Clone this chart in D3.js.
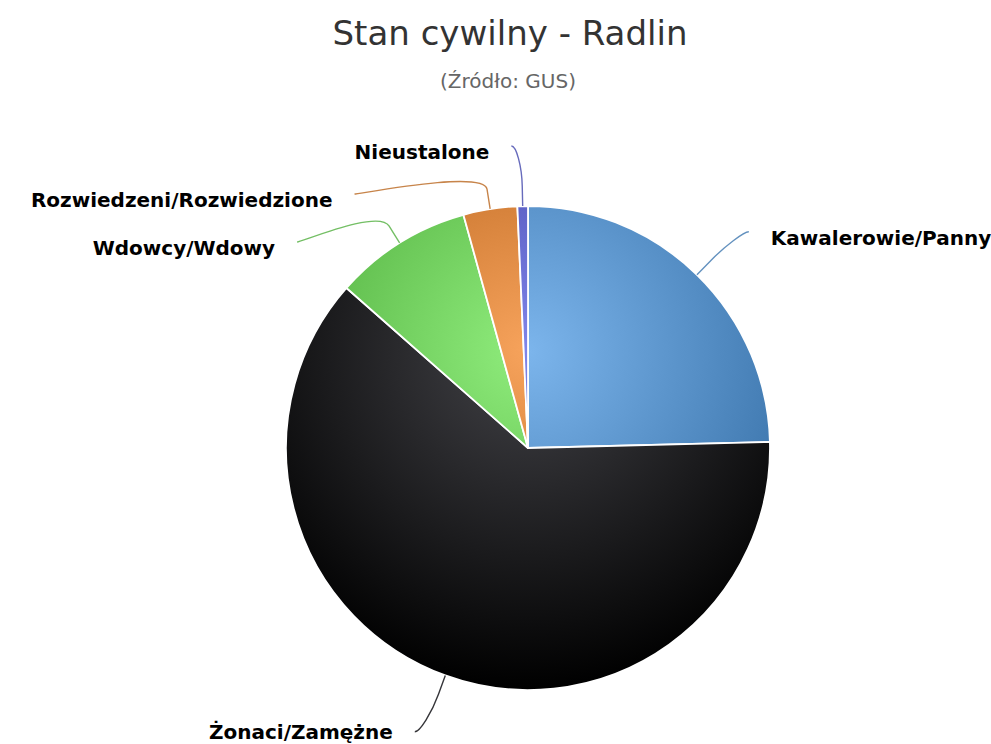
<!DOCTYPE html>
<html>
<head>
<meta charset="utf-8">
<script src="https://cdn.jsdelivr.net/npm/d3@7"></script>
<style>
  body { margin: 0; background: #fff; }
  svg { display: block; font-family: "DejaVu Sans", sans-serif; }
</style>
</head>
<body>
<svg id="chart" width="991" height="744"></svg>
<script>
// chart data (percent of residents)
const categories = ["Kawalerowie/Panny", "Żonaci/Zamężne", "Wdowcy/Wdowy", "Rozwiedzeni/Rozwiedzione", "Nieustalone"];
const values = [24.6, 61.9, 9.2, 3.6, 0.7];
const colors = ["#7cb5ec", "#434348", "#90ed7d", "#f7a35c", "#8085e9"];
const titleText = "Stan cywilny - Radlin";
const subtitleText = "(Źródło: GUS)";

const width = 991, height = 744;
const cx = 528, cy = 448, radius = 242;
const labelR = radius + 60;
const breakR = radius + 20;

let svg = d3.select("#chart");
let defs = svg.append("defs");

// darker outer stop, like brighten(-0.3)
function darken(c) {
    let rgb = d3.rgb(c);
    let k = 0.3 * 255;
    return d3.rgb(Math.max(0, rgb.r - k), Math.max(0, rgb.g - k), Math.max(0, rgb.b - k)).toString();
}

// gradient is relative to the whole pie (slices are drawn around 0,0)
colors.forEach((c, i) => {
    let grad = defs.append("radialGradient")
        .attr("id", "grad" + i)
        .attr("gradientUnits", "userSpaceOnUse")
        .attr("cx", 0)
        .attr("cy", -radius + 0.3 * radius * 2)
        .attr("r", 0.7 * radius * 2);
    grad.append("stop").attr("offset", "0%").attr("stop-color", c);
    grad.append("stop").attr("offset", "100%").attr("stop-color", darken(c));
});

// titles
svg.append("text")
    .attr("x", 510)
    .attr("y", 45)
    .attr("text-anchor", "middle")
    .attr("font-size", "34px")
    .attr("fill", "#333333")
    .text(titleText);

svg.append("text")
    .attr("x", 508)
    .attr("y", 88)
    .attr("text-anchor", "middle")
    .attr("font-size", "20px")
    .attr("fill", "#666666")
    .text(subtitleText);

let pie = d3.pie().sort(null).value(d => d);
let arcs = pie(values);
let arc = d3.arc().innerRadius(0).outerRadius(radius);

let g = svg.append("g").attr("transform", "translate(" + cx + "," + cy + ")");

g.selectAll("path.slice")
    .data(arcs)
    .enter()
    .append("path")
    .attr("class", "slice")
    .attr("d", arc)
    .attr("fill", (d, i) => "url(#grad" + i + ")")
    .attr("stroke", "#ffffff")
    .attr("stroke-width", 1.8)
    .attr("stroke-linejoin", "round");

// label layout
let labels = arcs.map((d, i) => {
    let a = (d.startAngle + d.endAngle) / 2;
    let sign = Math.sin(a) < 0 ? -1 : 1;
    return {
        i: i,
        a: a,
        sign: sign,
        natY: -labelR * Math.cos(a)
    };
});

// push crowded labels down from the top, one side at a time
[-1, 1].forEach(side => {
    let list = labels.filter(l => l.sign == side).sort((p, q) => p.natY - q.natY);
    let prev = -Infinity;
    list.forEach(l => {
        let y = Math.max(l.natY, -labelR, prev + 48);
        l.y = y;
        prev = y;
    });
});

labels.forEach(l => {
    let x = l.sign * Math.sqrt(Math.max(0, labelR * labelR - l.y * l.y));
    let ex = x + l.sign * 10;
    let tx = radius * Math.sin(l.a), ty = -radius * Math.cos(l.a);
    let bx = breakR * Math.sin(l.a), by = -breakR * Math.cos(l.a);
    let p = d3.path();
    p.moveTo(ex, l.y);
    p.bezierCurveTo(ex - l.sign * 5, l.y, 2 * bx - tx, 2 * by - ty, bx, by);
    p.lineTo(tx, ty);

    g.append("path")
        .attr("d", p.toString())
        .attr("fill", "none")
        .attr("stroke", d3.color(colors[l.i]).darker(0.6))
        .attr("stroke-width", 1.4);

    // keep the text inside the picture
    let baseY = Math.min(l.y + 13, height - cy - 5);

    g.append("text")
        .attr("x", ex + l.sign * 22)
        .attr("y", baseY)
        .attr("text-anchor", l.sign < 0 ? "end" : "start")
        .attr("font-size", "20px")
        .attr("font-weight", "bold")
        .attr("fill", "#000000")
        .text(categories[l.i]);
});
</script>
</body>
</html>
